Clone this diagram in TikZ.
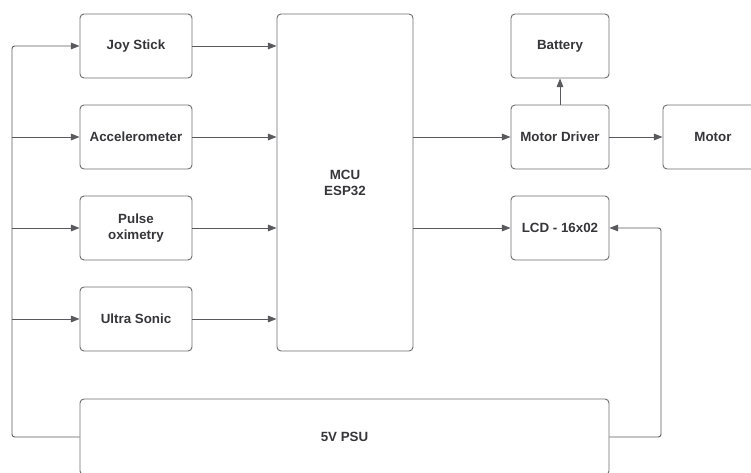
\documentclass[tikz,border=0pt]{standalone}
\usepackage{fontspec}
\setmainfont{Liberation Sans}
\usepackage{xcolor}
\usepackage{tikz}
\usetikzlibrary{arrows.meta,positioning}
\definecolor{wiregray}{HTML}{5A5A5E}
\definecolor{boxgray}{HTML}{6E6E72}
\definecolor{textgray}{HTML}{36363A}

\begin{document}
\begin{tikzpicture}[
  x=0.75pt, y=-0.75pt,
  block/.style={
    rectangle,
    rounded corners=3pt,
    draw=boxgray,
    line width=0.7pt,
    fill=white,
    minimum width=84pt,
    minimum height=48pt,
    align=center,
    text=textgray,
    font=\fontsize{10}{12}\selectfont\bfseries
  },
  outblock/.style={
    block,
    minimum width=73.5pt
  },
  rel/.style={-{Triangle[length=6.5pt,width=5pt]}, line width=0.7pt, draw=wiregray},
  wire/.style={line width=0.7pt, draw=wiregray, rounded corners=2pt}
]
\useasboundingbox (0,0) rectangle (751,473);
\clip (0,0) rectangle (751,473);

% sensors
\node[block] (joystick) at (136,46) {Joy Stick};
\node[block] (accel) at (136,137) {Accelerometer};
\node[block] (pulse) at (136,228) {Pulse\\oximetry};
\node[block] (ultra) at (136,319) {Ultra Sonic};

% controller
\node[block, minimum width=102pt, minimum height=252.75pt] (mcu) at (345,182.5) {MCU\\ESP32};

% outputs
\node[outblock] (battery) at (560,46) {Battery};
\node[outblock] (driver) at (560,137) {Motor Driver};
\node[outblock, minimum width=75pt] (motor) at (713,137) {Motor};
\node[outblock] (lcd) at (560,228) {LCD - 16x02};

% supply
\node[block, minimum width=396.75pt, minimum height=57pt] (psu) at (344.5,437) {5V PSU};

\coordinate (lbus) at (12,46);
\coordinate (rbus) at (661,228);

\draw[rel, wire] (psu.west) -| (lbus) -- (joystick.west);
\draw[rel] (lbus |- accel.west) -- (accel.west);
\draw[rel] (lbus |- pulse.west) -- (pulse.west);
\draw[rel] (lbus |- ultra.west) -- (ultra.west);

\draw[rel] (joystick.east) -- (mcu.west |- joystick.east);
\draw[rel] (accel.east) -- (mcu.west |- accel.east);
\draw[rel] (pulse.east) -- (mcu.west |- pulse.east);
\draw[rel] (ultra.east) -- (mcu.west |- ultra.east);

\draw[rel] (mcu.east |- driver.west) -- (driver.west);
\draw[rel] (mcu.east |- lcd.west) -- (lcd.west);
\draw[rel] (driver.north) -- (battery.south);
\draw[rel] (driver.east) -- (motor.west);

\draw[rel, wire] (psu.east) -| (rbus) -- (lcd.east);

\end{tikzpicture}
\end{document}
